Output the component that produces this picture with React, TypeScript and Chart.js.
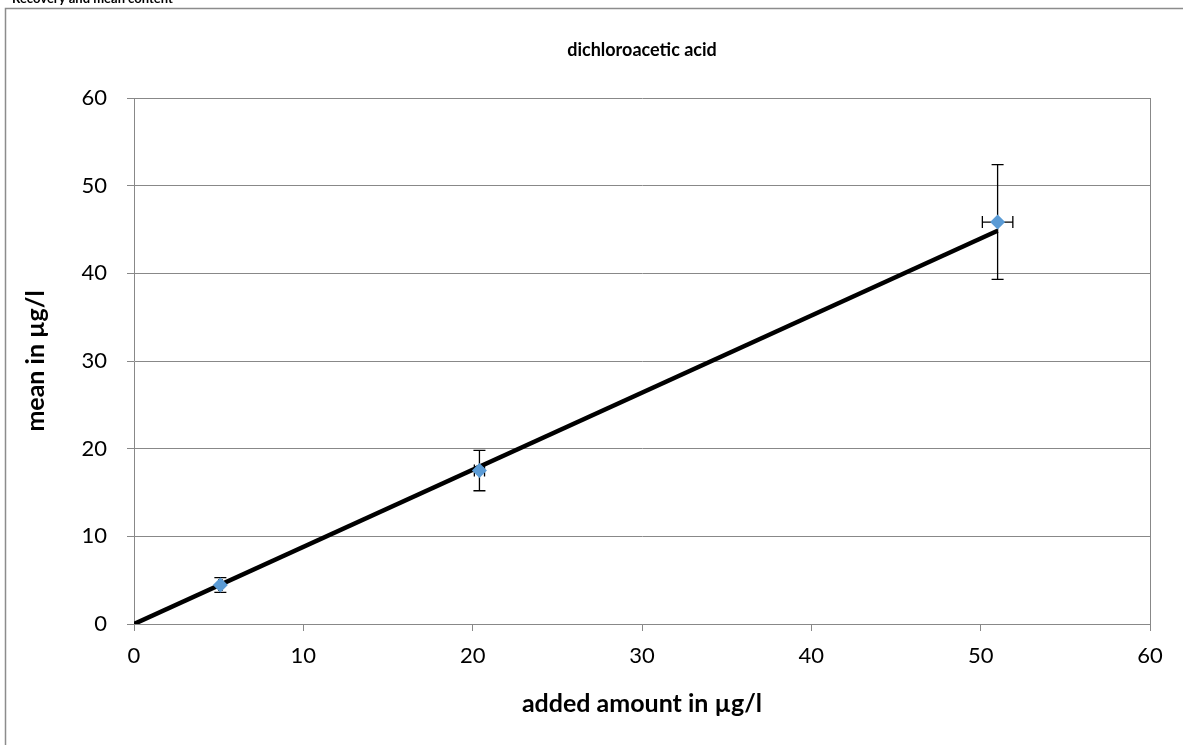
import React, { useEffect, useRef } from "react";
import { Chart, registerables } from "chart.js";

Chart.register(...registerables);

const addedAmount = [5.1, 20.4, 51.0];
const meanValues = [4.45, 17.5, 45.85];
const meanErrors = [0.85, 2.3, 6.55];
const addedErrors = [0.1, 0.3, 0.9];
const fitX = [0, 51];
const fitY = [0, 44.85];
const xTicks = [0, 10, 20, 30, 40, 50, 60];
const yTicks = [0, 10, 20, 30, 40, 50, 60];

const chartTitle = "dichloroacetic acid";
const xTitle = "added amount in µg/l";
const yTitle = "mean in µg/l";
const pageHeading = "Recovery and mean content";

const FONT = "Lato, 'Open Sans', sans-serif";
const GRID = "#888888";

const decorPlugin = {
  id: "decor",
  beforeDatasetsDraw(chart: any) {
    const { ctx, scales } = chart;
    const xs = scales.x;
    const ys = scales.y;
    ctx.save();
    ctx.strokeStyle = "#000";
    ctx.lineWidth = 1.3;
    const cap = 6;
    for (let i = 0; i < addedAmount.length; i++) {
      const px = xs.getPixelForValue(addedAmount[i]);
      const py = ys.getPixelForValue(meanValues[i]);
      const yTop = ys.getPixelForValue(meanValues[i] + meanErrors[i]);
      const yBot = ys.getPixelForValue(meanValues[i] - meanErrors[i]);
      const xL = xs.getPixelForValue(addedAmount[i] - addedErrors[i]);
      const xR = xs.getPixelForValue(addedAmount[i] + addedErrors[i]);
      ctx.beginPath();
      ctx.moveTo(px, yTop);
      ctx.lineTo(px, yBot);
      ctx.moveTo(px - cap, yTop);
      ctx.lineTo(px + cap, yTop);
      ctx.moveTo(px - cap, yBot);
      ctx.lineTo(px + cap, yBot);
      ctx.moveTo(xL, py);
      ctx.lineTo(xR, py);
      ctx.moveTo(xL, py - cap);
      ctx.lineTo(xL, py + cap);
      ctx.moveTo(xR, py - cap);
      ctx.lineTo(xR, py + cap);
      ctx.stroke();
    }
    ctx.restore();
  },
  afterDraw(chart: any) {
    const { ctx, chartArea } = chart;
    ctx.save();
    ctx.strokeStyle = "#8c8c8c";
    ctx.lineWidth = 1.5;
    ctx.beginPath();
    ctx.moveTo(5.5, 2000);
    ctx.lineTo(5.5, 8.5);
    ctx.lineTo(2000, 8.5);
    ctx.stroke();
    ctx.strokeStyle = GRID;
    ctx.lineWidth = 1;
    ctx.beginPath();
    ctx.moveTo(chartArea.right + 0.5, chartArea.top);
    ctx.lineTo(chartArea.right + 0.5, chartArea.bottom);
    ctx.stroke();
    ctx.fillStyle = "#000";
    ctx.textAlign = "center";
    ctx.textBaseline = "alphabetic";
    const cx = (chartArea.left + chartArea.right) / 2;
    ctx.font = `bold 18px ${FONT}`;
    ctx.fillText(chartTitle, cx, 56);
    ctx.font = `bold 25px ${FONT}`;
    ctx.fillText(xTitle, cx, 712);
    ctx.save();
    ctx.translate(44, (chartArea.top + chartArea.bottom) / 2);
    ctx.rotate(-Math.PI / 2);
    ctx.fillText(yTitle, 0, 0);
    ctx.restore();
    ctx.textAlign = "left";
    ctx.font = `bold 13px ${FONT}`;
    ctx.fillText(pageHeading, 12, 3);
    ctx.restore();
  },
};

export default function App() {
  const ref = useRef<HTMLCanvasElement | null>(null);
  useEffect(() => {
    if (!ref.current) return;
    const chart = new Chart(ref.current, {
      type: "scatter",
      data: {
        datasets: [
          {
            type: "scatter",
            data: addedAmount.map((x, i) => ({ x, y: meanValues[i] })),
            pointStyle: "rectRot",
            pointRadius: 7.5,
            backgroundColor: "#5B9BD5",
            borderWidth: 0,
            order: 0,
          },
          {
            type: "line",
            data: fitX.map((x, i) => ({ x, y: fitY[i] })),
            borderColor: "#000",
            borderWidth: 4.5,
            pointRadius: 0,
            fill: false,
            order: 1,
          },
        ],
      },
      plugins: [decorPlugin],
      options: {
        responsive: false,
        animation: false,
        events: [],
        layout: { padding: { top: 98, right: 33, left: 0, bottom: 0 } },
        plugins: { legend: { display: false }, tooltip: { enabled: false }, title: { display: false } },
        scales: {
          x: {
            type: "linear",
            min: 0,
            max: 60,
            afterBuildTicks: (s: any) => { s.ticks = xTicks.map((v) => ({ value: v })); },
            afterFit: (s: any) => { s.height = 121; },
            grid: { drawOnChartArea: false, drawTicks: true, tickLength: 7, color: GRID },
            border: { color: GRID, width: 1 },
            ticks: { color: "#000", font: { family: FONT, size: 22 }, padding: 12, maxRotation: 0 },
          },
          y: {
            type: "linear",
            min: 0,
            max: 60,
            afterBuildTicks: (s: any) => { s.ticks = yTicks.map((v) => ({ value: v })); },
            afterFit: (s: any) => { s.width = 134; },
            grid: { drawOnChartArea: true, drawTicks: true, tickLength: 7, color: GRID },
            border: { color: GRID, width: 1 },
            ticks: { color: "#000", font: { family: FONT, size: 22 }, padding: 20 },
          },
        },
      },
    });
    return () => chart.destroy();
  }, []);
  return (
    <div style={{ position: "absolute", left: 0, top: 0, width: 1183, height: 745, background: "#fff" }}>
      <canvas ref={ref} width={1183} height={745} style={{ width: 1183, height: 745, display: "block" }} />
    </div>
  );
}
